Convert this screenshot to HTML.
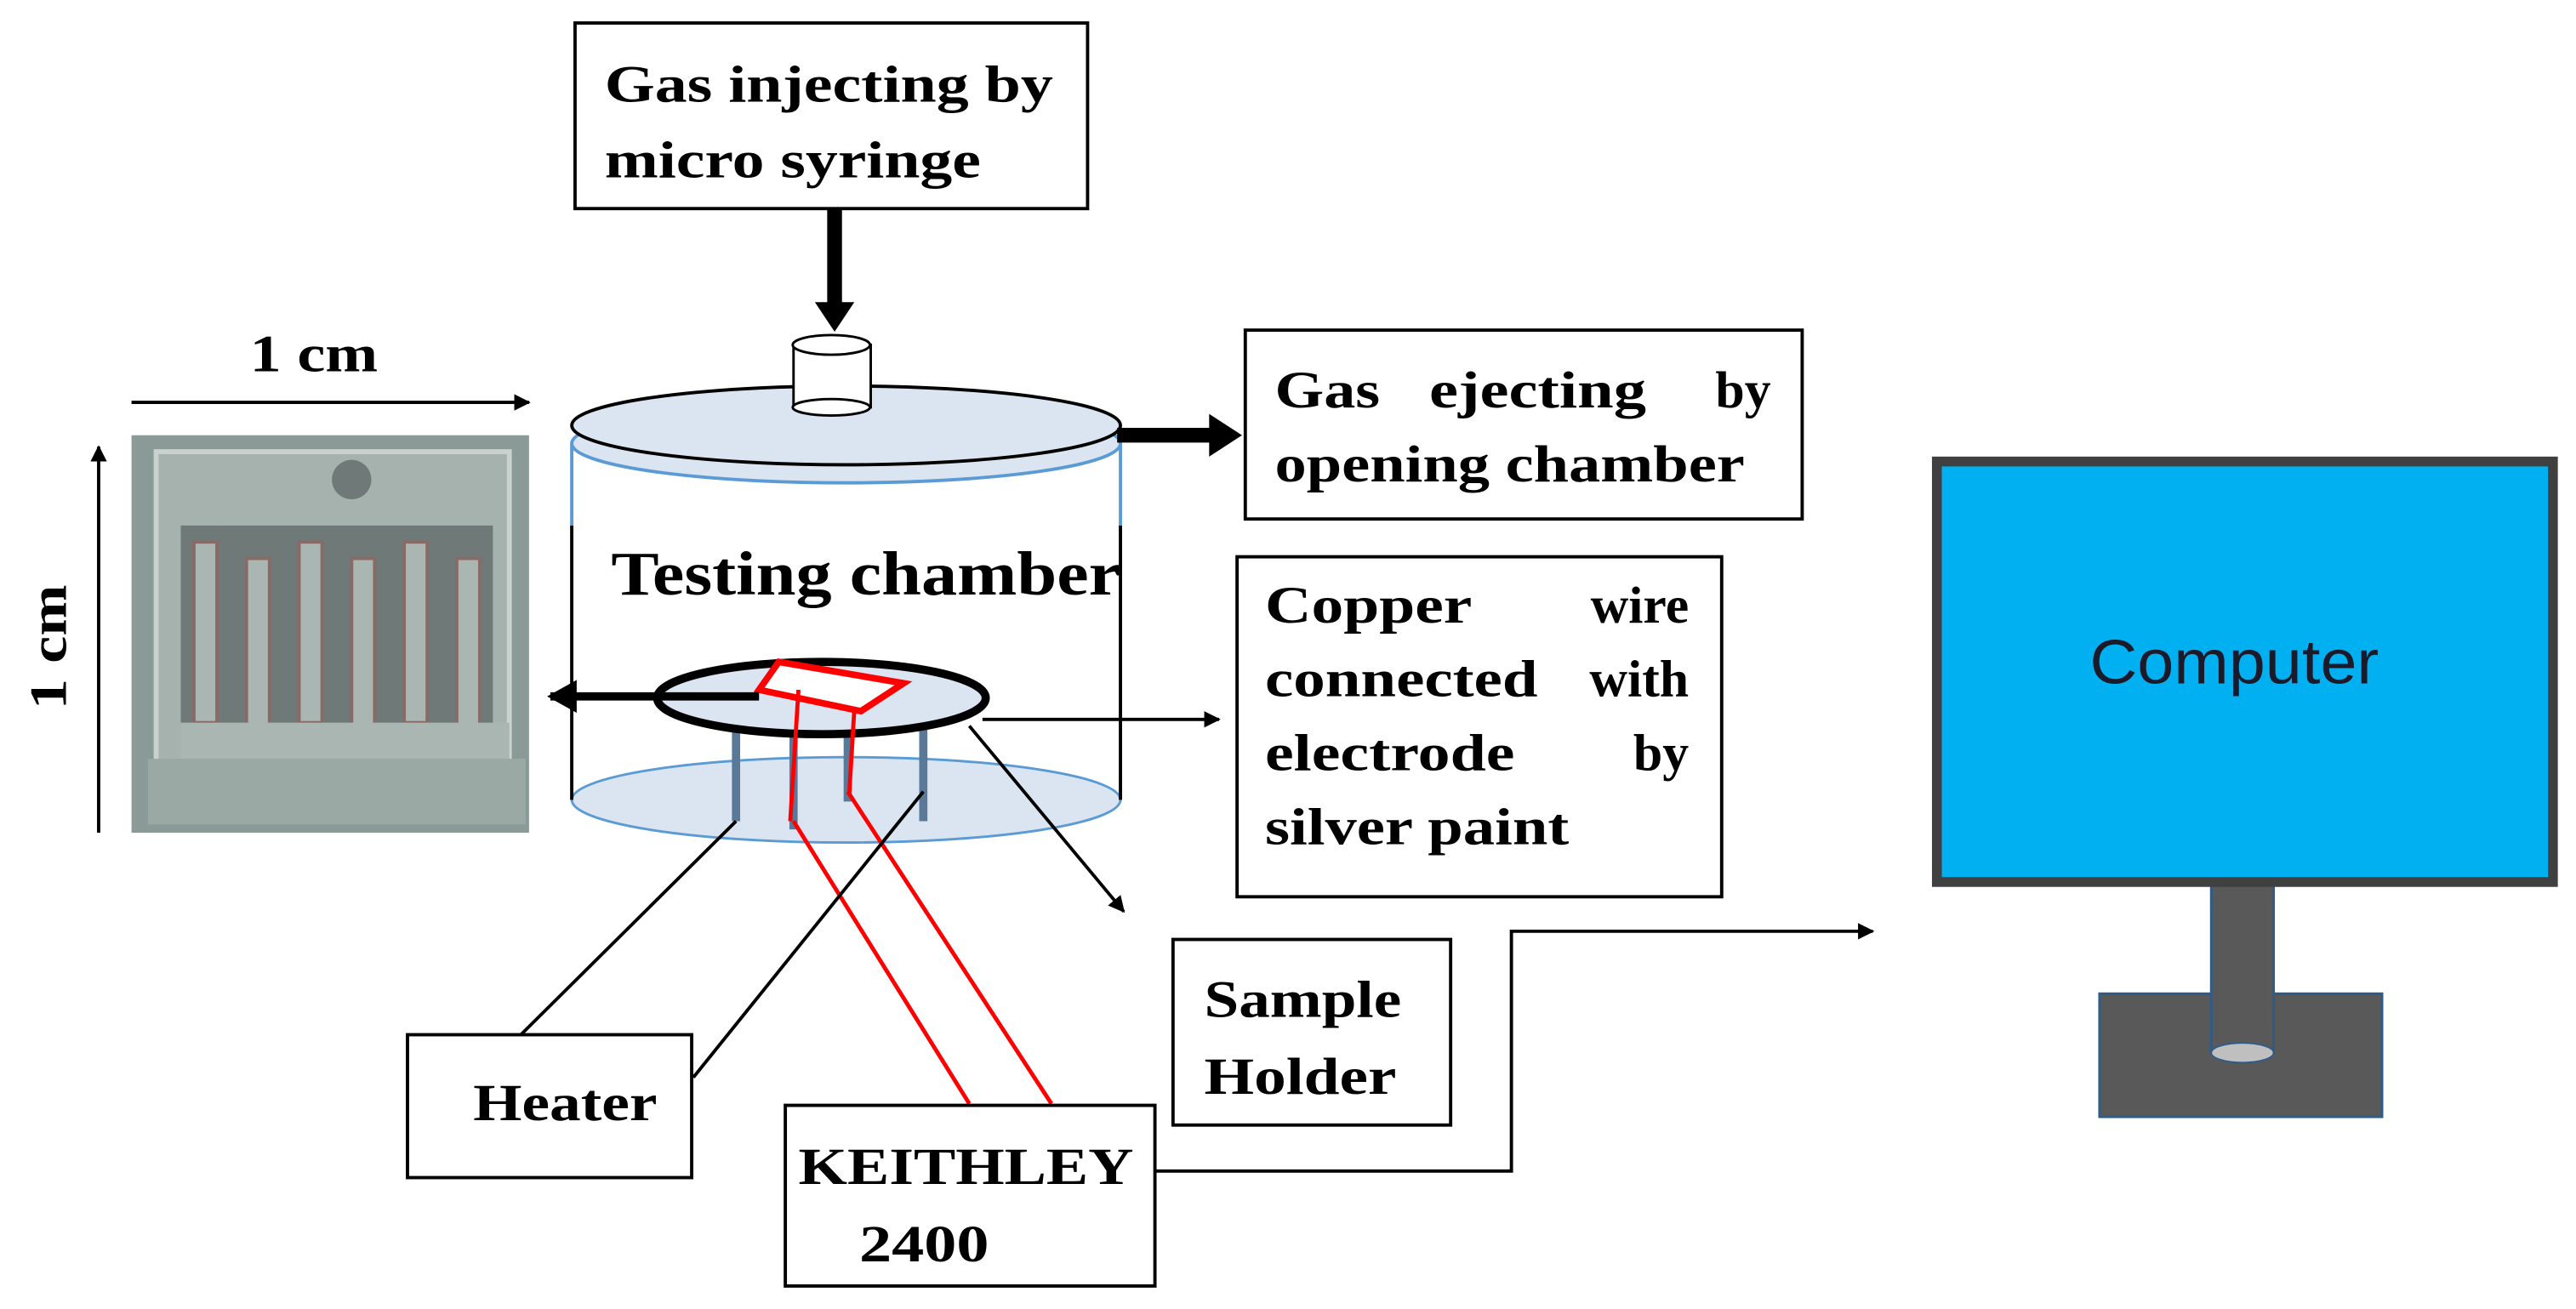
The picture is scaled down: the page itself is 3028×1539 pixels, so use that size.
<!DOCTYPE html>
<html><head><style>html,body{margin:0;padding:0;background:#fff}svg{display:block}</style></head><body>
<svg width="3028" height="1539" viewBox="0 0 1568 797" xmlns="http://www.w3.org/2000/svg" font-family="Liberation Serif, serif" font-weight="bold">
<defs>
<marker id="a" markerWidth="10" markerHeight="10" refX="9" refY="5" orient="auto" markerUnits="userSpaceOnUse"><path d="M0,0 L10,5 L0,10 z" fill="#000"/></marker>
<marker id="b" markerWidth="20" markerHeight="20" refX="16" refY="10" orient="auto" markerUnits="userSpaceOnUse"><path d="M0,0 L18,10 L0,20 z" fill="#000"/></marker>
</defs>
<rect width="1568" height="797" fill="#fff"/>
<g font-size="32">
<rect x="350" y="14" width="312" height="113" fill="#fff" stroke="#000" stroke-width="2"/>
<text x="368" y="62" textLength="273" lengthAdjust="spacingAndGlyphs">Gas injecting by</text>
<text x="368" y="108" textLength="229" lengthAdjust="spacingAndGlyphs">micro syringe</text>
</g>
<line x1="508" y1="127" x2="508" y2="186" stroke="#000" stroke-width="9"/>
<path d="M496,184 L520,184 L508,202 z" fill="#000"/>
<ellipse cx="515" cy="487" rx="167" ry="26" fill="#dbe5f1" stroke="#5b9bd5" stroke-width="1.5"/>
<line x1="348" y1="270" x2="348" y2="320" stroke="#5b9bd5" stroke-width="2"/>
<line x1="682" y1="270" x2="682" y2="320" stroke="#5b9bd5" stroke-width="2"/>
<line x1="348" y1="320" x2="348" y2="487" stroke="#000" stroke-width="2"/>
<line x1="682" y1="320" x2="682" y2="487" stroke="#000" stroke-width="2"/>
<ellipse cx="515" cy="270" rx="167" ry="24" fill="#dbe5f1" stroke="#5b9bd5" stroke-width="2"/>
<ellipse cx="515" cy="259" rx="167" ry="24" fill="#dbe5f1" stroke="#000" stroke-width="2"/>
<rect x="483" y="210" width="47" height="38" fill="#fff" stroke="#000" stroke-width="1.5"/>
<ellipse cx="506" cy="248" rx="23.5" ry="5" fill="#fff" stroke="#000" stroke-width="1.5"/>
<ellipse cx="506" cy="210" rx="23.5" ry="6" fill="#fff" stroke="#000" stroke-width="1.5"/>
<line x1="680" y1="265" x2="740" y2="265" stroke="#000" stroke-width="9"/>
<path d="M736,252 L756,265 L736,278 z" fill="#000"/>
<g font-size="32">
<rect x="758" y="201" width="339" height="115" fill="#fff" stroke="#000" stroke-width="2"/>
<text x="776" y="248" textLength="64" lengthAdjust="spacingAndGlyphs">Gas</text>
<text x="870" y="248" textLength="132" lengthAdjust="spacingAndGlyphs">ejecting</text>
<text x="1078" y="248" text-anchor="end">by</text>
<text x="776" y="293" textLength="286" lengthAdjust="spacingAndGlyphs">opening chamber</text>
<text x="372" y="362" font-size="38" textLength="310" lengthAdjust="spacingAndGlyphs">Testing chamber</text>
</g>
<g stroke="#5a7898" stroke-width="5"><line x1="448" y1="440" x2="448" y2="500"/><line x1="483" y1="440" x2="483" y2="505"/><line x1="516" y1="440" x2="516" y2="488"/><line x1="562" y1="440" x2="562" y2="500"/></g>
<ellipse cx="500" cy="425" rx="100" ry="22" fill="#dbe5f1" stroke="#000" stroke-width="5"/>
<path d="M474,403 L550,416 L524,433 L462,420 z" fill="#fff" stroke="#f00" stroke-width="4"/>
<g stroke="#f00" stroke-width="2.5" fill="none">
<line x1="486" y1="420" x2="481" y2="500"/><line x1="520" y1="432" x2="517" y2="482"/>
<line x1="483" y1="500" x2="590" y2="672"/><line x1="516" y1="482" x2="640" y2="672"/>
</g>
<g stroke="#000" stroke-width="2" fill="none">
<line x1="448" y1="500" x2="315" y2="632"/><line x1="562" y1="482" x2="422" y2="656"/>
</g>
<line x1="462" y1="424" x2="335" y2="424" stroke="#000" stroke-width="5" marker-end="url(#b)"/>
<line x1="598" y1="438" x2="742" y2="438" stroke="#000" stroke-width="2" marker-end="url(#a)"/>
<line x1="590" y1="442" x2="684" y2="555" stroke="#000" stroke-width="2" marker-end="url(#a)"/>
<rect x="753" y="339" width="295" height="207" fill="#fff" stroke="#000" stroke-width="2"/>
<g font-size="32">
<text x="770" y="379" textLength="126" lengthAdjust="spacingAndGlyphs">Copper</text>
<text x="1028" y="379" text-anchor="end">wire</text>
<text x="770" y="424" textLength="166" lengthAdjust="spacingAndGlyphs">connected</text>
<text x="1028" y="424" text-anchor="end">with</text>
<text x="770" y="469" textLength="152" lengthAdjust="spacingAndGlyphs">electrode</text>
<text x="1028" y="469" text-anchor="end">by</text>
<text x="770" y="514" textLength="185" lengthAdjust="spacingAndGlyphs">silver paint</text>
</g>
<rect x="80" y="265" width="242" height="242" fill="#8a9a96"/>
<rect x="95" y="275" width="215" height="222" fill="#a5b2ad" stroke="#c9d2cf" stroke-width="3"/>
<path d="M110,320 L300,320 L300,460 L110,460 z" fill="#6f7a78"/>
<g fill="#aab6b2" stroke="#8a6a66" stroke-width="2">
<rect x="118" y="330" width="14" height="110"/><rect x="150" y="340" width="14" height="112"/><rect x="182" y="330" width="14" height="110"/><rect x="214" y="340" width="14" height="112"/><rect x="246" y="330" width="14" height="110"/><rect x="278" y="340" width="14" height="112"/>
</g>
<rect x="110" y="440" width="200" height="25" fill="#aab6b2"/>
<rect x="90" y="462" width="230" height="40" fill="#9aa9a4"/>
<circle cx="214" cy="292" r="12" fill="#6f7a78"/>
<line x1="80" y1="245" x2="322" y2="245" stroke="#000" stroke-width="2" marker-end="url(#a)"/>
<text x="152" y="226" font-size="32" textLength="78" lengthAdjust="spacingAndGlyphs">1 cm</text>
<line x1="60" y1="507" x2="60" y2="272" stroke="#000" stroke-width="2" marker-end="url(#a)"/>
<text transform="translate(40,432) rotate(-90)" font-size="32" textLength="76" lengthAdjust="spacingAndGlyphs">1 cm</text>
<g font-size="32">
<rect x="248" y="630" width="173" height="87" fill="#fff" stroke="#000" stroke-width="2"/>
<text x="288" y="682" textLength="112" lengthAdjust="spacingAndGlyphs">Heater</text>
<rect x="714" y="572" width="169" height="113" fill="#fff" stroke="#000" stroke-width="2"/>
<text x="733" y="619" textLength="120" lengthAdjust="spacingAndGlyphs">Sample</text>
<text x="733" y="666" textLength="117" lengthAdjust="spacingAndGlyphs">Holder</text>
<rect x="478" y="673" width="225" height="110" fill="#fff" stroke="#000" stroke-width="2"/>
<text x="486" y="721" textLength="204" lengthAdjust="spacingAndGlyphs">KEITHLEY</text>
<text x="523" y="768" textLength="79" lengthAdjust="spacingAndGlyphs">2400</text>
</g>
<polyline points="703,713 920,713 920,567 1140,567" fill="none" stroke="#000" stroke-width="2" marker-end="url(#a)"/>
<rect x="1278" y="605" width="172" height="75" fill="#595959" stroke="#2e5c8a" stroke-width="1.5"/>
<rect x="1346" y="538" width="38" height="103" fill="#595959" stroke="#2e5c8a" stroke-width="1.5"/>
<ellipse cx="1365" cy="641" rx="19" ry="6" fill="#bfbfbf" stroke="#2e5c8a" stroke-width="1"/>
<rect x="1179" y="281" width="375" height="256" fill="#00b0f0" stroke="#404040" stroke-width="6"/>
<text x="1272" y="416" font-size="38" font-weight="normal" font-family="Liberation Sans, sans-serif" textLength="176" lengthAdjust="spacingAndGlyphs" fill="#1a1a2a">Computer</text>
</svg>
</body></html>
